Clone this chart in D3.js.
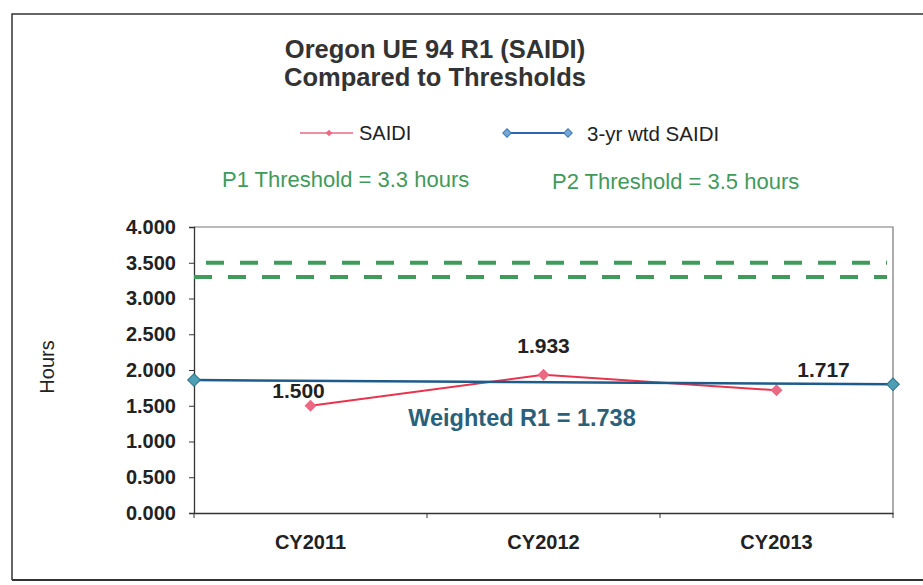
<!DOCTYPE html>
<html>
<head>
<meta charset="utf-8">
<script src="https://cdn.jsdelivr.net/npm/d3@7"></script>
<style>
html,body{margin:0;padding:0;background:#fff;}
svg{display:block;}
text{font-family:"Liberation Sans",Arial,sans-serif;}
</style>
</head>
<body>
<svg id="chart" width="923" height="585"></svg>
<script>
// ---- data ----
const categories = ["CY2011", "CY2012", "CY2013"];
const saidiValues = [1.500, 1.933, 1.717];
const saidiLabels = ["1.500", "1.933", "1.717"];
const wtdPositions = [0, 3];          // left and right edge of the category axis
const wtdValues = [1.86, 1.80];
const thresholdP1 = 3.3;
const thresholdP2 = 3.5;
const yTicks = [0, 0.5, 1, 1.5, 2, 2.5, 3, 3.5, 4];
const titleLines = ["Oregon UE 94 R1 (SAIDI)", "Compared to Thresholds"];
const legendNames = ["SAIDI", "3-yr wtd SAIDI"];
const weightedLabel = "Weighted R1 = 1.738";

// ---- layout ----
const svg = d3.select("#chart");
const pL = 194, pR = 893, pT = 227, pB = 513;

const x = d3.scaleBand().domain(categories).range([pL, pR]);
const xLin = d3.scaleLinear().domain([0, categories.length]).range([pL, pR]);
const y = d3.scaleLinear().domain([0, 4]).range([pB, pT]);

const red = "#e8344e", pink = "#ea6a84", blue = "#1e5b8a", teal = "#4d9fb4", green = "#3f9a5c";
const diamond = s => d3.symbol(d3.symbolSquare, s)();

// outer frame
svg.append("path").attr("d", "M12,580 L12,14 L923,14").attr("fill", "none").attr("stroke", "#333").attr("stroke-width", 1.5);
svg.append("line").attr("x1", 12).attr("x2", 923).attr("y1", 580).attr("y2", 580).attr("stroke", "#333").attr("stroke-width", 2);

// title
svg.append("text").attr("x", 435).attr("y", 58).attr("text-anchor", "middle")
  .attr("font-size", 25.5).attr("font-weight", "bold").attr("fill", "#333").text(titleLines[0]);
svg.append("text").attr("x", 435).attr("y", 86).attr("text-anchor", "middle")
  .attr("font-size", 25.5).attr("font-weight", "bold").attr("fill", "#333").text(titleLines[1]);

// legend
const lg = svg.append("g");
lg.append("line").attr("x1", 300).attr("x2", 353).attr("y1", 133).attr("y2", 133).attr("stroke", pink).attr("stroke-width", 1.5);
lg.append("path").attr("d", diamond(22)).attr("transform", "translate(329,133) rotate(45)").attr("fill", pink);
lg.append("text").attr("x", 359).attr("y", 140).attr("font-size", 20).attr("fill", "#222").text(legendNames[0]);
lg.append("line").attr("x1", 507).attr("x2", 568).attr("y1", 133).attr("y2", 133).attr("stroke", "#2a66b0").attr("stroke-width", 1.8);
[507, 568].forEach(px => lg.append("path").attr("d", diamond(36))
  .attr("transform", `translate(${px},133) rotate(45)`).attr("fill", "#74a8d8").attr("stroke", "#3a78b0"));
lg.append("text").attr("x", 587).attr("y", 141).attr("font-size", 20.5).attr("fill", "#222").text(legendNames[1]);

svg.append("text").attr("x", 222).attr("y", 187).attr("font-size", 22).attr("fill", green).text("P1 Threshold = " + thresholdP1 + " hours");
svg.append("text").attr("x", 552).attr("y", 189).attr("font-size", 22).attr("fill", green).text("P2 Threshold = " + thresholdP2 + " hours");

// plot frame (top and right)
svg.append("path").attr("d", `M${pL},${pT} L${pR},${pT} L${pR},${pB}`)
  .attr("fill", "none").attr("stroke", "#777").attr("stroke-width", 1.2);

// axes
const yAxis = svg.append("g").attr("transform", `translate(${pL},0)`)
  .call(d3.axisLeft(y).tickValues(yTicks).tickFormat(d3.format(".3f")).tickSize(5).tickPadding(13));
yAxis.select(".domain").attr("stroke", "#333").attr("stroke-width", 1.3);
yAxis.selectAll(".tick line").attr("stroke", "#333");
yAxis.selectAll("text").attr("font-size", 20).attr("font-weight", "bold").attr("fill", "#222")
  .attr("font-family", "'Liberation Sans',Arial,sans-serif");

const xAxis = svg.append("g").attr("transform", `translate(0,${pB})`)
  .call(d3.axisBottom(x).tickSize(0).tickPadding(22).tickSizeOuter(0));
xAxis.select(".domain").attr("stroke", "#333").attr("stroke-width", 1.6);
xAxis.selectAll("text").attr("font-size", 20).attr("font-weight", "bold").attr("fill", "#222")
  .attr("font-family", "'Liberation Sans',Arial,sans-serif");
// category boundary ticks
svg.append("g").selectAll("line").data(d3.range(categories.length + 1)).join("line")
  .attr("x1", d => xLin(d)).attr("x2", d => xLin(d)).attr("y1", pB).attr("y2", pB + 5)
  .attr("stroke", "#333");

svg.append("text").attr("transform", "translate(54,367) rotate(-90)").attr("text-anchor", "middle")
  .attr("font-size", 20).attr("fill", "#222").text("Hours");

// thresholds
svg.append("line").attr("x1", pL + 12).attr("x2", pR - 6).attr("y1", y(thresholdP2)).attr("y2", y(thresholdP2))
  .attr("stroke", green).attr("stroke-width", 4).attr("stroke-dasharray", "18,16");
svg.append("line").attr("x1", pL).attr("x2", pR - 6).attr("y1", y(thresholdP1)).attr("y2", y(thresholdP1))
  .attr("stroke", green).attr("stroke-width", 4).attr("stroke-dasharray", "18,16");

// SAIDI line
const saidiPts = categories.map((c, i) => [x(c) + x.bandwidth() / 2, y(saidiValues[i])]);
svg.append("path").attr("d", d3.line()(saidiPts)).attr("fill", "none").attr("stroke", red).attr("stroke-width", 2);
svg.selectAll(".sm").data(saidiPts).join("path").attr("class", "sm")
  .attr("d", diamond(72)).attr("transform", d => `translate(${d[0]},${d[1]}) rotate(45)`)
  .attr("fill", pink);

// weighted line
const wtdPts = wtdPositions.map((p, i) => [xLin(p), y(wtdValues[i])]);
svg.append("path").attr("d", d3.line()(wtdPts)).attr("fill", "none").attr("stroke", blue).attr("stroke-width", 2.5);
svg.selectAll(".wm").data(wtdPts).join("path").attr("class", "wm")
  .attr("d", diamond(80)).attr("transform", d => `translate(${d[0]},${d[1]}) rotate(45)`)
  .attr("fill", teal).attr("stroke", "#2f7088");

// data labels
const labelOffsets = [[-12, -8], [0, -22], [47, -13]];
svg.selectAll(".dl").data(saidiPts).join("text").attr("class", "dl")
  .attr("x", (d, i) => d[0] + labelOffsets[i][0]).attr("y", (d, i) => d[1] + labelOffsets[i][1])
  .attr("text-anchor", "middle").attr("font-size", 21).attr("font-weight", "bold").attr("fill", "#222")
  .text((d, i) => saidiLabels[i]);

svg.append("text").attr("x", 522).attr("y", 426).attr("text-anchor", "middle")
  .attr("font-size", 23.5).attr("font-weight", "bold").attr("fill", "#2a6079").text(weightedLabel);
</script>
</body>
</html>
